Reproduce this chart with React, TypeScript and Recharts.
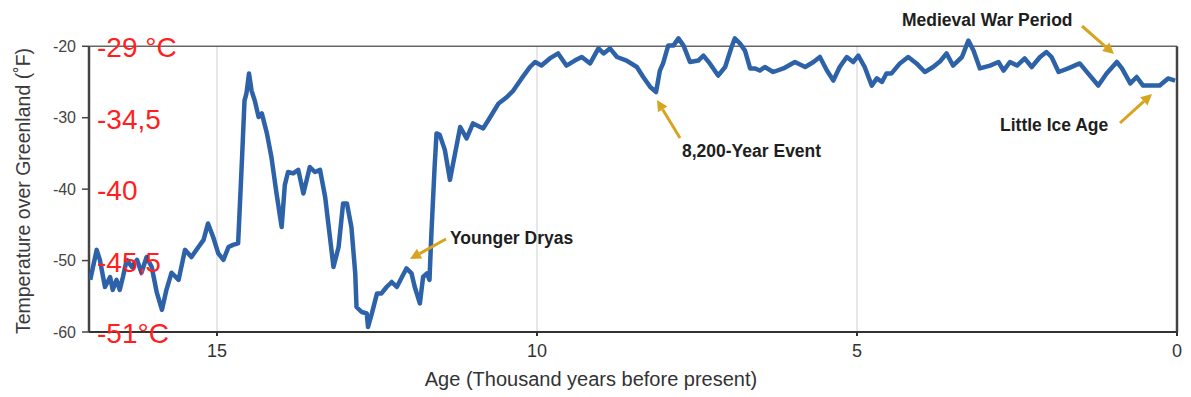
import React from 'react';
import { LineChart, Line, XAxis, YAxis, ReferenceLine } from 'recharts';

// age in thousand years before present
const ages = [
  16.98, 16.88, 16.83, 16.75, 16.67, 16.63, 16.57, 16.52, 16.47, 16.41,
  16.33, 16.25, 16.18, 16.1, 16.02, 15.94, 15.86, 15.79, 15.71, 15.6,
  15.5, 15.4, 15.29, 15.21, 15.14, 15.06, 14.98, 14.9, 14.82, 14.75,
  14.67, 14.61, 14.57, 14.54, 14.5, 14.46, 14.41, 14.35, 14.3, 14.22,
  14.15, 14.07, 13.99, 13.94, 13.89, 13.81, 13.73, 13.65, 13.55, 13.47,
  13.39, 13.31, 13.18, 13.1, 13.03, 12.97, 12.9, 12.84, 12.82, 12.74,
  12.66, 12.64, 12.58, 12.5, 12.43, 12.35, 12.27, 12.19, 12.11, 12.04,
  11.96, 11.91, 11.83, 11.78, 11.72, 11.68, 11.65, 11.6, 11.57, 11.52,
  11.44, 11.36, 11.28, 11.2, 11.1, 11.0, 10.84, 10.73, 10.6, 10.47,
  10.37, 10.24, 10.11, 10.03, 9.93, 9.8, 9.67, 9.54, 9.41, 9.3,
  9.17, 9.04, 8.96, 8.86, 8.75, 8.6, 8.44, 8.34, 8.23, 8.14,
  8.08, 8.03, 7.95, 7.87, 7.79, 7.71, 7.61, 7.48, 7.4, 7.3,
  7.17, 7.06, 6.96, 6.91, 6.83, 6.75, 6.67, 6.59, 6.52, 6.44,
  6.31, 6.15, 5.97, 5.81, 5.68, 5.58, 5.47, 5.37, 5.27, 5.16,
  5.06, 4.98, 4.88, 4.77, 4.69, 4.61, 4.54, 4.46, 4.33, 4.2,
  4.07, 3.94, 3.81, 3.7, 3.6, 3.5, 3.36, 3.26, 3.18, 3.08,
  2.92, 2.79, 2.71, 2.61, 2.5, 2.38, 2.27, 2.14, 2.04, 1.96,
  1.85, 1.7, 1.52, 1.39, 1.23, 1.1, 0.94, 0.86, 0.73, 0.63,
  0.53, 0.37, 0.27, 0.14, 0.03,
];

// temperature over Greenland, °F
const tempsF = [
  -52.7, -48.5, -49.9, -53.7, -52.3, -54.1, -52.7, -54.1, -52.3, -49.9,
  -50.9, -49.9, -51.7, -49.5, -50.9, -54.5, -56.9, -54.1, -51.7, -52.7,
  -48.5, -49.5, -48.1, -47.1, -44.8, -46.7, -49.0, -49.9, -48.1, -47.8,
  -47.6, -35.9, -27.6, -26.6, -23.8, -26.2, -27.6, -29.9, -29.4, -32.2,
  -35.5, -40.6, -45.3, -39.4, -37.6, -37.8, -37.3, -40.6, -36.9, -37.6,
  -37.3, -41.1, -50.9, -48.1, -42.0, -42.0, -45.3, -51.8, -56.5, -57.2,
  -57.4, -59.3, -57.4, -54.6, -54.6, -53.7, -53.0, -53.7, -52.3, -51.1,
  -51.8, -53.7, -56.0, -52.3, -51.8, -52.7, -46.2, -36.9, -32.2, -32.4,
  -34.5, -38.7, -35.0, -31.3, -32.9, -30.8, -31.5, -29.9, -28.0, -27.1,
  -26.2, -24.5, -22.9, -22.2, -22.7, -21.7, -21.0, -22.7, -22.0, -21.5,
  -22.4, -20.3, -21.0, -20.3, -21.5, -22.0, -22.9, -24.3, -25.7, -26.4,
  -23.4, -22.4, -19.9, -19.9, -18.9, -19.9, -22.2, -22.0, -21.3, -22.4,
  -24.1, -22.9, -20.1, -18.9, -19.6, -20.6, -23.1, -23.1, -23.4, -22.9,
  -23.6, -23.1, -22.2, -22.9, -22.2, -21.5, -23.4, -24.8, -22.9, -21.5,
  -22.2, -21.3, -22.9, -25.5, -24.5, -25.0, -23.8, -23.8, -22.4, -21.5,
  -22.4, -23.6, -22.9, -22.1, -21.0, -22.7, -21.5, -19.2, -20.6, -23.1,
  -22.7, -22.2, -23.4, -22.2, -22.7, -21.7, -22.9, -21.5, -20.8, -21.5,
  -23.6, -23.1, -22.4, -23.8, -25.5, -23.8, -22.2, -23.1, -25.2, -24.3,
  -25.5, -25.5, -25.5, -24.5, -24.8,
];

const xTicks = [0, 5, 10, 15];
const yTicks = [-60, -50, -40, -30, -20];
const celsiusLabels = ['-51°C', '-45,5', '-40', '-34,5', '-29 °C'];

const annotations = [
  { text: 'Younger Dryas', tx: 450, ty: 244, from: [446, 239], to: [410, 259] },
  { text: '8,200-Year Event', tx: 682, ty: 157, from: [680, 138], to: [657, 100] },
  { text: 'Medieval War Period', tx: 902, ty: 26, from: [1082, 26], to: [1114, 54] },
  { text: 'Little Ice Age', tx: 1000, ty: 131, from: [1120, 123], to: [1152, 94] },
];

const data = ages.map((age, i) => ({ age, temp: tempsF[i] }));

const FONT = '"Liberation Sans", Arial, sans-serif';
const ARROW = '#d6a520';

const YTick = (props: any) => {
  const { x, y, payload } = props;
  const idx = yTicks.indexOf(payload.value);
  return (
    <g>
      <text x={x} y={y} dy="0.355em" textAnchor="end" fontSize={16} fill="#444" fontFamily={FONT}>
        {payload.value}
      </text>
      <text x={x + 21} y={y + 1} dy="0.355em" textAnchor="start" fontSize={28} fill="#ff1f1f" fontFamily={FONT}>
        {celsiusLabels[idx]}
      </text>
    </g>
  );
};

const Arrow = ({ from, to }: { from: number[]; to: number[] }) => {
  const dx = to[0] - from[0];
  const dy = to[1] - from[1];
  const len = Math.hypot(dx, dy);
  const ux = dx / len;
  const uy = dy / len;
  const head = 11;
  const bx = to[0] - ux * head;
  const by = to[1] - uy * head;
  const pts = [
    `${to[0]},${to[1]}`,
    `${bx - uy * 5.5},${by + ux * 5.5}`,
    `${bx + uy * 5.5},${by - ux * 5.5}`,
  ].join(' ');
  return (
    <g>
      <line x1={from[0]} y1={from[1]} x2={bx} y2={by} stroke={ARROW} strokeWidth={3} />
      <polygon points={pts} fill={ARROW} />
    </g>
  );
};

export default function App() {
  return (
    <div style={{ position: 'absolute', left: 0, top: 0, width: 1191, height: 397, background: '#fff' }}>
      <LineChart width={1191} height={397} data={data} margin={{ top: 32, right: 14, bottom: 35, left: 29 }}>
        {[15, 10, 5].map((v) => (
          <ReferenceLine
            key={v}
            segment={[{ x: v, y: -60 }, { x: v, y: -20 }]}
            stroke="#cfcfcf"
            strokeWidth={1}
          />
        ))}
        <ReferenceLine y={-20} stroke="#666" strokeWidth={1.5} />
        <ReferenceLine segment={[{ x: 17, y: -60 }, { x: 17, y: -20 }]} stroke="#444" strokeWidth={2.5} />
        <ReferenceLine segment={[{ x: 0, y: -60 }, { x: 0, y: -20 }]} stroke="#444" strokeWidth={2.5} />
        <XAxis
          dataKey="age"
          type="number"
          domain={[0, 17]}
          reversed
          allowDataOverflow
          ticks={xTicks}
          height={30}
          tickSize={4}
          tickMargin={8}
          stroke="#333"
          strokeWidth={2}
          tick={{ fontSize: 18, fill: '#333', fontFamily: FONT }}
        />
        <YAxis
          type="number"
          domain={[-60, -18]}
          allowDataOverflow
          ticks={yTicks}
          width={60}
          axisLine={false}
          tickSize={7}
          tickMargin={6}
          tickLine={{ stroke: '#444', strokeWidth: 1.5 }}
          tick={<YTick />}
        />
        <Line
          type="linear"
          dataKey="temp"
          stroke="#2d62a8"
          strokeWidth={4.5}
          strokeLinejoin="round"
          dot={false}
          isAnimationActive={false}
        />
      </LineChart>
      <svg
        width={1191}
        height={397}
        style={{ position: 'absolute', left: 0, top: 0, pointerEvents: 'none' }}
      >
        <text
          transform="translate(30,191) rotate(-90)"
          textAnchor="middle"
          fontSize={19.5}
          fill="#3a3a3a"
          fontFamily={FONT}
        >
          Temperature over Greenland (˚F)
        </text>
        <text x={591} y={386} textAnchor="middle" fontSize={20} fill="#333" fontFamily={FONT}>
          Age (Thousand years before present)
        </text>
        {annotations.map((a) => (
          <g key={a.text}>
            <text x={a.tx} y={a.ty} fontSize={17.5} fontWeight="bold" fill="#1e1e1e" fontFamily={FONT}>
              {a.text}
            </text>
            <Arrow from={a.from} to={a.to} />
          </g>
        ))}
      </svg>
    </div>
  );
}
